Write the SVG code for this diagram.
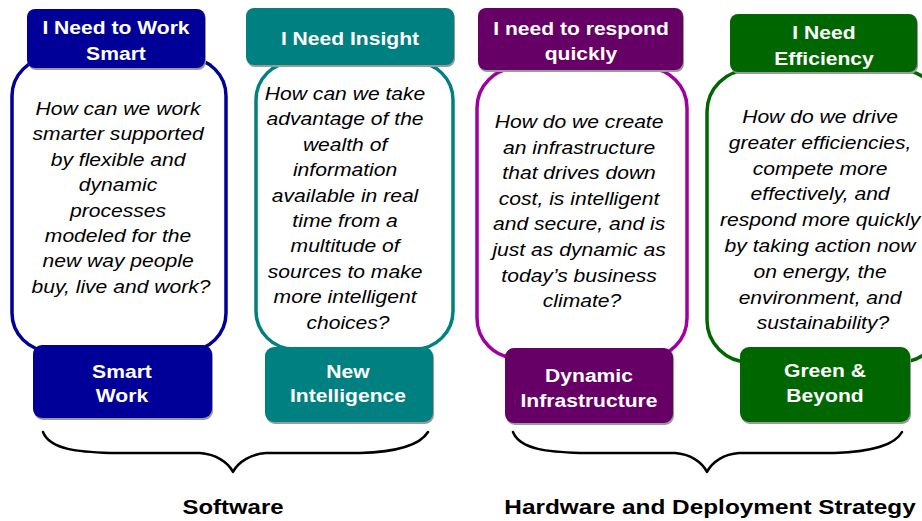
<svg xmlns="http://www.w3.org/2000/svg" width="922" height="521" viewBox="0 0 922 521">
  <style>
    .body { fill: #ffffff; stroke-width: 3.5; }
    .shadow { fill: #9a9a9a; }
    .hdr { font-family: "Liberation Sans", Arial, sans-serif; font-weight: bold; font-size: 19px; fill: #ffffff; text-anchor: middle; }
    .q { font-family: "Liberation Sans", Arial, sans-serif; font-style: italic; font-size: 19px; fill: #000000; text-anchor: middle; }
    .lbl { font-family: "Liberation Sans", Arial, sans-serif; font-weight: bold; font-size: 21px; fill: #000000; text-anchor: middle; }
    .brace { fill: none; stroke: #000000; stroke-width: 2.5; stroke-linecap: round; stroke-linejoin: round; }
  </style>
  <rect width="922" height="521" fill="#ffffff"/>

  <g id="col-smart-work">
    <rect class="body" x="12" y="58" width="214" height="293" rx="38" stroke="#000099"/>
    <rect class="shadow" x="28" y="11" width="178" height="59" rx="8"/>
    <rect x="27" y="9" width="178" height="59" rx="8" fill="#000099"/>
    <text class="hdr" transform="matrix(1.11 0 0 1 116 0)"><tspan x="0" y="34">I Need to Work</tspan><tspan x="0" y="60">Smart</tspan></text>
    <text class="q" transform="matrix(1.11 0 0 1 121 0)">
      <tspan x="0" y="115">How can we work</tspan>
      <tspan x="0" y="140.4">smarter supported</tspan>
      <tspan x="0" y="165.8">by flexible and</tspan>
      <tspan x="0" y="191.2">dynamic</tspan>
      <tspan x="0" y="216.6">processes</tspan>
      <tspan x="0" y="242">modeled for the</tspan>
      <tspan x="0" y="267.4">new way people</tspan>
      <tspan x="0" y="292.8">buy, live and work?</tspan>
    </text>
    <rect class="shadow" x="34" y="347" width="179" height="73" rx="9"/>
    <rect x="33" y="345" width="179" height="73" rx="9" fill="#000099"/>
    <text class="hdr" transform="matrix(1.11 0 0 1 122 0)"><tspan x="0" y="378">Smart</tspan><tspan x="0" y="402">Work</tspan></text>
  </g>

  <g id="col-new-intelligence">
    <rect class="body" x="256" y="62" width="197" height="287" rx="38" stroke="#008080"/>
    <rect class="shadow" x="247" y="10" width="208" height="57" rx="8"/>
    <rect x="246" y="8" width="208" height="57" rx="8" fill="#008080"/>
    <text class="hdr" transform="matrix(1.11 0 0 1 350 0)"><tspan x="0" y="45">I Need Insight</tspan></text>
    <text class="q" transform="matrix(1.11 0 0 1 348 0)">
      <tspan x="0" y="100">How can we take</tspan>
      <tspan x="0" y="125.4">advantage of the</tspan>
      <tspan x="0" y="150.8">wealth of</tspan>
      <tspan x="0" y="176.2">information</tspan>
      <tspan x="0" y="201.6">available in real</tspan>
      <tspan x="0" y="227">time from a</tspan>
      <tspan x="0" y="252.4">multitude of</tspan>
      <tspan x="0" y="277.8">sources to make</tspan>
      <tspan x="0" y="303.2">more intelligent</tspan>
      <tspan x="0" y="328.6">choices?</tspan>
    </text>
    <rect class="shadow" x="266" y="349" width="168" height="75" rx="9"/>
    <rect x="265" y="347" width="168" height="75" rx="9" fill="#008080"/>
    <text class="hdr" transform="matrix(1.11 0 0 1 348 0)"><tspan x="0" y="378">New</tspan><tspan x="0" y="402">Intelligence</tspan></text>
  </g>

  <g id="col-dynamic-infrastructure">
    <rect class="body" x="477" y="68" width="210" height="290" rx="40" stroke="#a000a0"/>
    <rect class="shadow" x="479" y="10" width="205" height="62" rx="8"/>
    <rect x="478" y="8" width="205" height="62" rx="8" fill="#660066"/>
    <text class="hdr" transform="matrix(1.11 0 0 1 581 0)"><tspan x="0" y="35">I need to respond</tspan><tspan x="0" y="60">quickly</tspan></text>
    <text class="q" transform="matrix(1.11 0 0 1 582 0)">
      <tspan x="0" y="128">How do we create</tspan>
      <tspan x="0" y="153.6">an infrastructure</tspan>
      <tspan x="0" y="179.2">that drives down</tspan>
      <tspan x="0" y="204.8">cost, is intelligent</tspan>
      <tspan x="0" y="230.4">and secure, and is</tspan>
      <tspan x="0" y="256">just as dynamic as</tspan>
      <tspan x="0" y="281.6">today’s business</tspan>
      <tspan x="0" y="307.2">climate?</tspan>
    </text>
    <rect class="shadow" x="506" y="350" width="168" height="75" rx="9"/>
    <rect x="505" y="348" width="168" height="75" rx="9" fill="#660066"/>
    <text class="hdr" transform="matrix(1.11 0 0 1 589 0)"><tspan x="0" y="382">Dynamic</tspan><tspan x="0" y="407">Infrastructure</tspan></text>
  </g>

  <g id="col-green-beyond">
    <rect class="body" x="707" y="70" width="235" height="292" rx="42" stroke="#006600"/>
    <rect class="shadow" x="731" y="16" width="187" height="58" rx="8"/>
    <rect x="730" y="14" width="187" height="58" rx="8" fill="#006600"/>
    <text class="hdr" transform="matrix(1.11 0 0 1 824 0)"><tspan x="0" y="39">I Need</tspan><tspan x="0" y="65">Efficiency</tspan></text>
    <text class="q" transform="matrix(1.11 0 0 1 823 0)">
      <tspan x="0" y="123">How do we drive</tspan>
      <tspan x="0" y="148.8">greater efficiencies,</tspan>
      <tspan x="0" y="174.6">compete more</tspan>
      <tspan x="0" y="200.4">effectively, and</tspan>
      <tspan x="0" y="226.2">respond more quickly</tspan>
      <tspan x="0" y="252">by taking action now</tspan>
      <tspan x="0" y="277.8">on energy, the</tspan>
      <tspan x="0" y="303.6">environment, and</tspan>
      <tspan x="0" y="329.4">sustainability?</tspan>
    </text>
    <rect class="shadow" x="741" y="349" width="170" height="75" rx="9"/>
    <rect x="740" y="347" width="170" height="75" rx="9" fill="#006600"/>
    <text class="hdr" transform="matrix(1.11 0 0 1 825 0)"><tspan x="0" y="377">Green &amp;</tspan><tspan x="0" y="402">Beyond</tspan></text>
  </g>

  <g id="connectors">
    <path class="brace" d="M43,432 C50,450 80,452 110,453 L200,453 C215,454 228,462 233,472 C238,462 251,454 266,453 L360,453 C395,452 420,445 428,432"/>
    <path class="brace" d="M513,432 C520,450 550,452 580,453 L675,453 C690,454 702,462 707,472 C712,462 724,454 739,453 L835,453 C870,452 895,445 902,432"/>
  </g>

  <g id="label-software">
    <text class="lbl" transform="matrix(1.14 0 0 1 233 0)"><tspan x="0" y="514">Software</tspan></text>
  </g>
  <g id="label-hardware">
    <text class="lbl" transform="matrix(1.16 0 0 1 710 0)"><tspan x="0" y="514">Hardware and Deployment Strategy</tspan></text>
  </g>
</svg>
